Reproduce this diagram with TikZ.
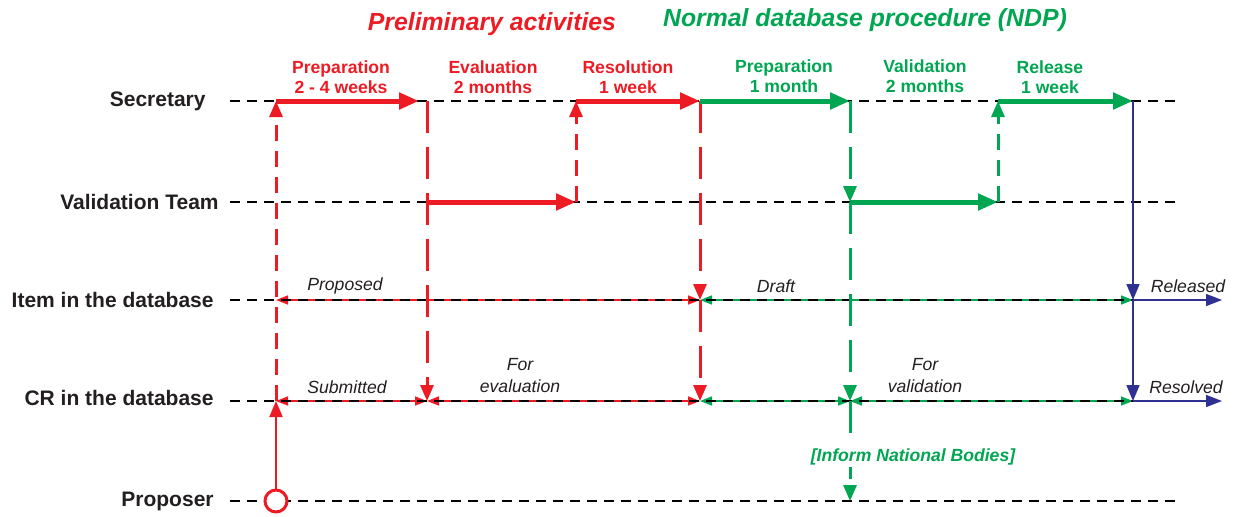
\documentclass[tikz,border=0pt]{standalone}
\usepackage{fontspec}
\setmainfont{Liberation Sans}
\usepackage{tikz}
\usetikzlibrary{arrows.meta, positioning}

\definecolor{ndpred}{RGB}{237,28,36}
\definecolor{ndpgreen}{RGB}{0,166,81}
\definecolor{ndpblue}{RGB}{46,49,146}
\definecolor{txtgray}{RGB}{35,31,32}

\begin{document}
\begin{tikzpicture}[x=0.5pt, y=-0.5pt,
    lane/.style={black, line width=1pt, dash pattern=on 5pt off 3.5pt},
    phase/.style={line width=2.5pt, -{Triangle[length=10pt,width=8pt]}},
    handlong/.style={line width=1.5pt, dash pattern=on 16pt off 7pt, -{Triangle[length=8pt,width=6.5pt]}},
    handshort/.style={line width=1.5pt, dash pattern=on 8pt off 5pt, -{Triangle[length=8pt,width=6.5pt]}},
    state/.style={line width=0.8pt, {Triangle[length=6pt,width=4.5pt]}-{Triangle[length=6pt,width=4.5pt]}},
    lanelabel/.style={anchor=east, inner sep=0pt, text=txtgray, font=\bfseries\fontsize{10.5}{12}\selectfont},
    steplabel/.style={align=center, font=\bfseries\fontsize{8.8}{10}\selectfont},
    statelabel/.style={align=center, text=txtgray, font=\itshape\fontsize{8.8}{11}\selectfont},
    title/.style={font=\bfseries\itshape\fontsize{12.4}{14}\selectfont}]
  \useasboundingbox (0,0) rectangle (1239,516);

  % grid of lanes and columns
  \foreach \ln/\y in {s/101, v/202, i/300, c/401, p/501}{
    \foreach \n/\x in {0/230, 1/276, 2/427, 3/576, 4/700, 5/850, 6/998, 7/1133, 8/1180}
      \coordinate (\ln\n) at (\x,\y);
  }
  \coordinate (i9) at (1222,300);
  \coordinate (c9) at (1222,401);

  % lane labels
  \node[lanelabel] (lsec) at (206,101) {Secretary};
  \node[lanelabel] (lval) at (219,202) {Validation Team};
  \node[lanelabel] (litem) at (214,300) {Item in the database};
  \node[lanelabel] (lcr) at (214,398) {CR in the database};
  \node[lanelabel] (lprop) at (214,501) {Proposer};

  % titles
  \node[title, text=ndpred] (tpre) at (492,24) {Preliminary activities};
  \node[title, text=ndpgreen] (tndp) at (865,20) {Normal database procedure (NDP)};

  % states
  \draw[state, ndpred] (i1) -- (i4);
  \draw[state, ndpred] (c1) -- (c2);
  \draw[state, ndpred] (c2) -- (c4);
  \draw[state, ndpgreen] (i4) -- (i7);
  \draw[state, ndpgreen] (c4) -- (c5);
  \draw[state, ndpgreen] (c5) -- (c7);

  % lanes
  \draw[lane] (s0) -- (s8);
  \draw[lane] (v0) -- (v8);
  \draw[lane] (i0) -- (i7);
  \draw[lane] (c0) -- (c7);
  \draw[lane] (p0) -- (1178,501);

  % preliminary activities
  \node[circle, draw=ndpred, line width=1.5pt, fill=white, minimum size=11pt, inner sep=0pt] (prop) at (p1) {};
  \draw[ndpred, line width=1pt, -{Triangle[length=8pt,width=6.5pt]}] (prop) -- (c1);
  \draw[handshort, ndpred] (c1) -- (s1);
  \draw[phase, ndpred, shorten >=4pt] (s1) -- (s2);
  \draw[handlong, ndpred] (s2) -- (c2);
  \draw[phase, ndpred] (v2) -- (v3);
  \draw[handshort, ndpred] (v3) -- (s3);
  \draw[phase, ndpred] (s3) -- (s4);
  \draw[handlong, ndpred] (s4) -- (i4);
  \draw[handlong, ndpred] (i4) -- (c4);

  % normal database procedure
  \draw[phase, ndpgreen] (s4) -- (s5);
  \draw[handlong, ndpgreen] (s5) -- (v5);
  \draw[phase, ndpgreen] (v5) -- (v6);
  \draw[handshort, ndpgreen] (v6) -- (s6);
  \draw[phase, ndpgreen] (s6) -- (s7);
  \draw[handlong, ndpgreen] (v5) -- (c5);
  \draw[handlong, ndpgreen] (c5) -- (p5);
  \node[fill=white, inner sep=1pt, text=ndpgreen, font=\bfseries\itshape\fontsize{8.8}{10}\selectfont] (inform) at (913,457) {[Inform National Bodies]};

  % release
  \draw[ndpblue, line width=0.8pt, -{Triangle[length=8pt,width=6.5pt]}] (s7) -- (i7);
  \draw[ndpblue, line width=0.8pt, -{Triangle[length=8pt,width=6.5pt]}] (i7) -- (c7);
  \draw[ndpblue, line width=0.8pt, -{Triangle[length=8pt,width=6pt]}] (i7) -- (i9);
  \draw[ndpblue, line width=0.8pt, -{Triangle[length=8pt,width=6pt]}] (c7) -- (c9);

  % step labels
  \node[steplabel, text=ndpred] (prep1) at (341,77) {Preparation\\2 - 4 weeks};
  \node[steplabel, text=ndpred] (eval) at (493,77) {Evaluation\\2 months};
  \node[steplabel, text=ndpred] (resol) at (628,77) {Resolution\\1 week};
  \node[steplabel, text=ndpgreen] (prep2) at (784,76) {Preparation\\1 month};
  \node[steplabel, text=ndpgreen] (valid) at (925,76) {Validation\\2 months};
  \node[steplabel, text=ndpgreen] (rel) at (1050,77) {Release\\1 week};

  % state labels
  \node[statelabel] (proposed) at (345,286) {Proposed};
  \node[statelabel] (draft) at (776,286) {Draft};
  \node[statelabel] (released) at (1188,286) {Released};
  \node[statelabel] (submitted) at (347,387) {Submitted};
  \node[statelabel] (foreval) at (520,376) {For\\evaluation};
  \node[statelabel] (forvalid) at (925,376) {For\\validation};
  \node[statelabel] (resolved) at (1186,387) {Resolved};
\end{tikzpicture}
\end{document}
